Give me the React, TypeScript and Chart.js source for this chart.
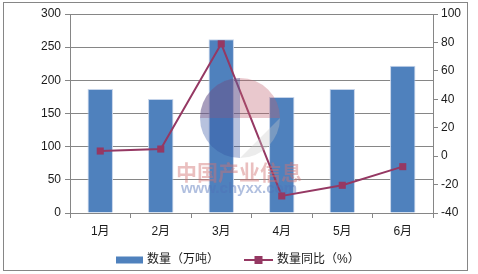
import React, { useEffect, useRef } from "react";
import { Chart, registerables } from "chart.js";
Chart.register(...registerables);

const categories = ["1月", "2月", "3月", "4月", "5月", "6月"];
const volume = [187, 172, 262, 175, 187, 222];
const yoy = [3.6, 5, 79, -28, -20.5, -7.4];
const barLabel = "数量（万吨）";
const lineLabel = "数量同比（%）";
const leftMin = 0, leftMax = 300, leftStep = 50;
const rightMin = -40, rightMax = 100, rightStep = 20;

const BAR_COLOR = "#4F81BD";
const LINE_COLOR = "#953863";
const GRID = "#868686";
const FONT = "'Liberation Sans', 'Noto Sans CJK SC', sans-serif";
const TEXT = "#1a1a1a";

const decorPlugin = {
  id: "decor",
  beforeDraw(chart: any) {
    const ctx = chart.ctx;
    ctx.save();
    ctx.fillStyle = "#ffffff";
    ctx.fillRect(0, 0, chart.width, chart.height);
    ctx.strokeStyle = GRID;
    ctx.lineWidth = 1;
    ctx.strokeRect(3.5, 2.5, 464, 268);
    ctx.restore();
  },
  afterDatasetsDraw(chart: any) {
    const ctx = chart.ctx;
    ctx.save();
    // faint watermark
    ctx.globalAlpha = 0.35;
    const cx = 240, cy = 118;
    ctx.fillStyle = "#c06070";
    ctx.beginPath();
    ctx.arc(cx, cy, 40, Math.PI, 2 * Math.PI);
    ctx.fill();
    ctx.fillStyle = "#3050a0";
    ctx.beginPath();
    ctx.arc(cx, cy, 40, 0.5 * Math.PI, 1.5 * Math.PI);
    ctx.fill();
    ctx.fillStyle = "#c8c8c8";
    ctx.beginPath();
    ctx.arc(cx, cy, 40, 0, 0.5 * Math.PI);
    ctx.fill();
    ctx.globalAlpha = 0.45;
    ctx.fillStyle = "#d07070";
    ctx.font = "bold 21px 'Noto Sans CJK SC', sans-serif";
    ctx.textAlign = "center";
    ctx.textBaseline = "middle";
    ctx.fillText("中国产业信息", 239, 172);
    ctx.fillStyle = "#5070b8";
    ctx.font = "bold 15px 'Liberation Sans', sans-serif";
    ctx.fillText("www.chyxx.com", 239, 189);
    ctx.restore();
  },
  afterDraw(chart: any) {
    const ctx = chart.ctx;
    ctx.save();
    const y = 260;
    const ds0 = chart.data.datasets[0];
    const ds1 = chart.data.datasets[1];
    ctx.fillStyle = ds0.backgroundColor;
    ctx.fillRect(116, y - 3.5, 27, 7);
    ctx.font = "12px " + FONT;
    ctx.fillStyle = TEXT;
    ctx.textBaseline = "middle";
    ctx.textAlign = "left";
    ctx.fillText(ds0.label, 147, y);
    ctx.strokeStyle = ds1.borderColor;
    ctx.lineWidth = 2;
    ctx.beginPath();
    ctx.moveTo(244, y);
    ctx.lineTo(273, y);
    ctx.stroke();
    ctx.fillStyle = ds1.borderColor;
    ctx.fillRect(254.5, y - 4, 8, 8);
    ctx.fillStyle = TEXT;
    ctx.fillText(ds1.label, 277, y);
    ctx.restore();
  },
};

export default function App() {
  const ref = useRef<HTMLCanvasElement>(null);
  useEffect(() => {
    const chart = new Chart(ref.current as HTMLCanvasElement, {
      type: "bar",
      data: {
        labels: categories,
        datasets: [
          {
            type: "bar",
            label: barLabel,
            data: volume,
            backgroundColor: BAR_COLOR,
            borderColor: "#c5d4ea",
            borderWidth: { left: 1, right: 1, top: 1, bottom: 0 },
            barPercentage: 0.42,
            categoryPercentage: 1,
            yAxisID: "y",
            order: 2,
          },
          {
            type: "line",
            label: lineLabel,
            data: yoy,
            borderColor: LINE_COLOR,
            backgroundColor: LINE_COLOR,
            borderWidth: 2,
            pointStyle: "rect",
            pointRadius: 5,
            pointBorderWidth: 0,
            pointBackgroundColor: LINE_COLOR,
            tension: 0,
            yAxisID: "y1",
            order: 1,
          },
        ],
      } as any,
      options: {
        animation: false,
        responsive: false,
        devicePixelRatio: 1,
        layout: { padding: { left: 0, right: 0, top: 14, bottom: 0 } },
        plugins: { legend: { display: false }, tooltip: { enabled: false } },
        scales: {
          x: {
            offset: true,
            grid: {
              offset: true,
              drawOnChartArea: false,
              drawTicks: true,
              tickLength: 5,
              color: GRID,
            },
            border: { display: true, color: GRID },
            ticks: { color: TEXT, font: { family: FONT, size: 12 }, padding: 6, maxRotation: 0 },
            afterFit: (s: any) => { s.height = 61; },
          },
          y: {
            position: "left",
            min: leftMin,
            max: leftMax,
            ticks: { stepSize: leftStep, color: TEXT, font: { family: FONT, size: 12 }, padding: 4 },
            grid: { color: GRID, tickLength: 5, drawTicks: true },
            border: { display: true, color: GRID },
            afterFit: (s: any) => { s.width = 70; },
          },
          y1: {
            position: "right",
            min: rightMin,
            max: rightMax,
            ticks: { stepSize: rightStep, color: TEXT, font: { family: FONT, size: 12 }, padding: 3 },
            grid: { drawOnChartArea: false, color: GRID, tickLength: 5, drawTicks: true },
            border: { display: true, color: GRID },
            afterFit: (s: any) => { s.width = 45; },
          },
        },
      } as any,
      plugins: [decorPlugin],
    });
    return () => chart.destroy();
  }, []);
  return (
    <div style={{ position: "absolute", left: 0, top: 0, width: 478, height: 274 }}>
      <canvas ref={ref} width={478} height={274} style={{ width: 478, height: 274 }} />
    </div>
  );
}
